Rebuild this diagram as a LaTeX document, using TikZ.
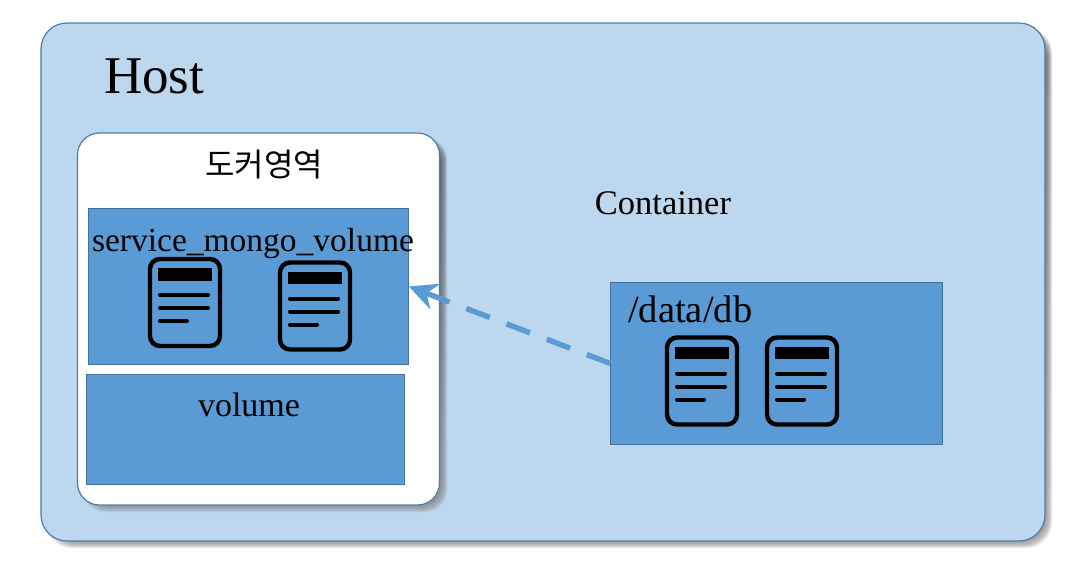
\documentclass[tikz,border=0pt]{standalone}
\usepackage{fontspec}
\setmainfont{Liberation Serif}
\newfontfamily\cjk{Noto Sans CJK KR}
\usetikzlibrary{arrows.meta}
\definecolor{hostfill}{HTML}{BDD7EE}
\definecolor{hostline}{HTML}{4A7EA8}
\definecolor{boxfill}{HTML}{5B9BD5}
\definecolor{boxline}{HTML}{41719C}
\definecolor{shade}{HTML}{3A4A5A}
\tikzset{
 x=1pt,y=-1pt,
 hostbox/.style={draw=hostline,line width=1.2pt,rounded corners=26pt,fill=hostfill,inner sep=0pt},
 dockbox/.style={draw=hostline,line width=1.2pt,rounded corners=22pt,fill=white,inner sep=0pt},
 bluebox/.style={draw=boxline,line width=.6pt,fill=boxfill,inner sep=0pt},
 lbl/.style={text=black,inner sep=0pt},
 doc/.style={draw=black,line width=4.4pt,rounded corners=10pt,fill=boxfill,minimum width=70pt,minimum height=87pt,inner sep=0pt},
}
\newcommand{\docicon}[2]{%
 \begin{scope}[shift={(#1,#2)}]
 \fill[black] (-27,-34.5) rectangle (27,-22);
 \draw[line width=4pt,line cap=round] (-25,-7.5) -- (23,-7.5);
 \draw[line width=4pt,line cap=round] (-25,5.5) -- (23,5.5);
 \draw[line width=4pt,line cap=round] (-25,18.5) -- (2,18.5);
 \end{scope}}
\newcommand{\softshadow}[5]{%
 \foreach \g in {0,1,...,6}{
  \fill[shade,opacity=.09,rounded corners=#5] ({#1+4-\g},{#2+4-\g}) rectangle ({#3+4+\g-3},{#4+4+\g-3});
 }}
\begin{document}
\begin{tikzpicture}
\useasboundingbox (0,0) rectangle (1086,568);
\fill[white] (0,0) rectangle (1086,568);
\softshadow{48}{30}{1045}{541}{26pt}
\node[hostbox,minimum width=1004pt,minimum height=518pt] (host) at (543,282) {};
\softshadow{85}{140}{440}{505}{22pt}
\node[dockbox,minimum width=362pt,minimum height=372pt] (dock) at (258.5,319) {};
\node[bluebox,minimum width=320pt,minimum height=156pt] (svc) at (248.5,286.5) {};
\node[bluebox,minimum width=318pt,minimum height=110pt] (vol) at (245.5,429.5) {};
\node[bluebox,minimum width=332pt,minimum height=162pt] (db) at (776.5,363.5) {};
\node[lbl,font=\fontsize{53}{56}\selectfont,anchor=base west] (hostl) at (104,93) {Host};
\node[lbl,font=\cjk\fontsize{32}{36}\selectfont] (dl) at (264,165) {도커영역};
\node[lbl,font=\fontsize{34.5}{38}\selectfont] (cl) at (663,203) {Container};
\node[lbl,font=\fontsize{33.5}{38}\selectfont] (sl) at (253,243.5) {service\_mongo\_volume};
\node[lbl,font=\fontsize{34}{38}\selectfont] (vl) at (249,405) {volume};
\node[lbl,font=\fontsize{38.5}{42}\selectfont,anchor=west] (dbl) at (628,309) {/data/db};
\node[doc] (d1) at (185,302.5) {};
\docicon{185}{302.5}
\node[doc] (d2) at (315,306) {};
\docicon{315}{306}
\node[doc] (d3) at (702,381) {};
\docicon{702}{381}
\node[doc] (d4) at (802,381) {};
\docicon{802}{381}
\draw[boxfill,line width=5.4pt,dash pattern=on 25pt off 18pt,-{Stealth[length=28pt,width=27pt,inset=9pt]}] (db.west) -- (svc.east);
\end{tikzpicture}
\end{document}
